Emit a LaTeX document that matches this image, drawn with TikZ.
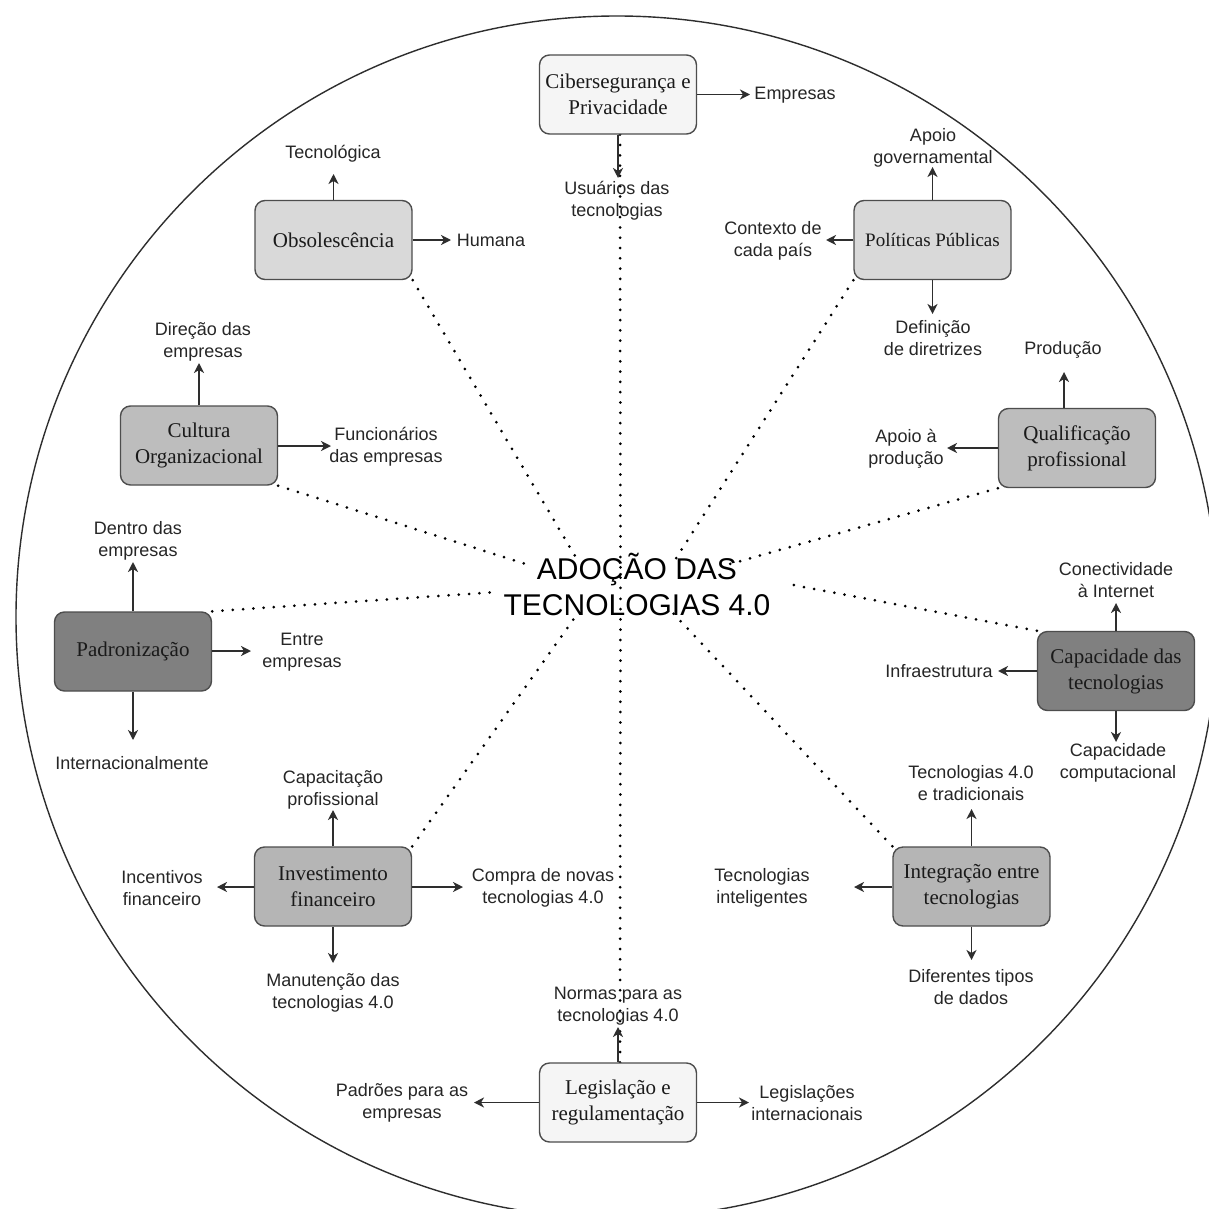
\documentclass[tikz,border=0pt]{standalone}
\usepackage{fontspec}
\setmainfont{Liberation Serif}
\newfontfamily\lsans{Liberation Sans}
\usetikzlibrary{arrows.meta,backgrounds}
\definecolor{fillA}{HTML}{F5F5F5}
\definecolor{fillB}{HTML}{D9D9D9}
\definecolor{fillC}{HTML}{BDBDBD}
\definecolor{fillD}{HTML}{B5B5B5}
\definecolor{fillE}{HTML}{808080}
\definecolor{edgec}{HTML}{4D4D4D}
\definecolor{linec}{HTML}{2E2E2E}
\definecolor{lbltext}{HTML}{262626}
\definecolor{boxtext}{HTML}{1A1A1A}
\begin{document}
\begin{tikzpicture}[x=1pt,y=-1pt,
  box/.style={draw=edgec, line width=1.4pt, rounded corners=10pt, minimum width=157pt, minimum height=79pt, inner sep=0pt, align=center, font=\fontsize{21}{26}\selectfont, text=boxtext},
  lbl/.style={align=center, font=\lsans\fontsize{18}{22}\selectfont, text=lbltext, inner sep=0pt},
  arr/.style={draw=linec, line width=1.7pt, -{Stealth[length=10pt,width=10pt,inset=3pt]}},
  dots/.style={line width=3pt, dash pattern=on 0pt off 10.3pt, line cap=round, black},
]
\useasboundingbox (0,0) rectangle (1209,1209);

% central text
\node[align=center, font=\lsans\fontsize{30}{36}\selectfont, inner sep=0pt, text=black] (core) at (637,584) {ADOÇÃO DAS\\TECNOLOGIAS 4.0};

% boxes
\node[box, fill=fillA] (cib) at (618,94.5) {Cibersegurança e\\Privacidade};
\node[box, fill=fillB] (obs) at (333.5,240) {Obsolescência};
\node[box, fill=fillB, font=\fontsize{19}{24}\selectfont] (pol) at (932.5,240) {Políticas Públicas};
\node[box, fill=fillC] (cul) at (199,445.5) {Cultura\\Organizacional};
\node[box, fill=fillC] (qua) at (1077,448) {Qualificação\\profissional};
\node[box, fill=fillE] (pad) at (133,651.5) {Padronização};
\node[box, fill=fillE] (cap) at (1116,671) {Capacidade das\\tecnologias};
\node[box, fill=fillD] (inv) at (333,886.5) {Investimento\\financeiro};
\node[box, fill=fillD] (int) at (971.5,886.5) {Integração entre\\tecnologias};
\node[box, fill=fillA] (leg) at (618,1102.5) {Legislação e\\regulamentação};

% dotted line ends near the centre
\coordinate (eO) at (575,556);
\coordinate (eC) at (532,566);
\coordinate (eP) at (497,592);
\coordinate (eI) at (578,613);
\coordinate (eT) at (675,560);
\coordinate (eQ) at (730,564);
\coordinate (eK) at (788,584);
\coordinate (eG) at (672,612);
\coordinate (eV) at (620.5,590);

\begin{scope}[on background layer]
\fill[white] (0,0) rectangle (1209,1209);
\begin{scope}
\clip (0,0) rectangle (1209,1209);
\node[circle, draw=linec, line width=1.4pt, minimum size=1202pt, inner sep=0pt] (ring) at (617,617) {};
\end{scope}
\draw[dots] (obs.south east) -- (eO);
\draw[dots] (cul.south east) -- (eC);
\draw[dots] (pad.north east) -- (eP);
\draw[dots] (inv.north east) -- (eI);
\draw[dots] (pol.south west) -- (eT);
\draw[dots] (qua.south west) -- (eQ);
\draw[dots] (cap.north west) -- (eK);
\draw[dots] (int.north west) -- (eG);
\draw[dots] ([xshift=2pt]cib.south) -- (eV);
\draw[dots] ([xshift=2pt]leg.north) -- (eV);
\end{scope}

% labels
\node[lbl] (l1) at (795,95) {Empresas};
\node[lbl] (l2) at (617,201) {Usuários das\\tecnologias};
\node[lbl] (l3) at (333,154) {Tecnológica};
\node[lbl] (l4) at (491,240) {Humana};
\node[lbl] (l5) at (933,148) {Apoio\\governamental};
\node[lbl] (l6) at (773,241) {Contexto de\\cada país};
\node[lbl] (l7) at (933,338) {Definição\\de diretrizes};
\node[lbl] (l8) at (203,342) {Direção das\\empresas};
\node[lbl] (l9) at (386,447) {Funcionários\\das empresas};
\node[lbl] (l10) at (1063,350) {Produção};
\node[lbl] (l11) at (906,449) {Apoio à\\produção};
\node[lbl] (l12) at (138,541) {Dentro das\\empresas};
\node[lbl] (l13) at (302,652) {Entre\\empresas};
\node[lbl] (l14) at (132,763) {Internacionalmente};
\node[lbl] (l15) at (1116,580) {Conectividade\\à Internet};
\node[lbl] (l16) at (939,671) {Infraestrutura};
\node[lbl] (l17) at (1118,763) {Capacidade\\computacional};
\node[lbl] (l18) at (333,790) {Capacitação\\profissional};
\node[lbl] (l19) at (162,888) {Incentivos\\financeiro};
\node[lbl] (l20) at (543,888) {Compra de novas\\tecnologias 4.0};
\node[lbl] (l21) at (333,993) {Manutenção das\\tecnologias 4.0};
\node[lbl] (l22) at (971,783) {Tecnologias 4.0\\e tradicionais};
\node[lbl] (l23) at (762,888) {Tecnologias\\inteligentes};
\node[lbl] (l24) at (971,987) {Diferentes tipos\\de dados};
\node[lbl] (l25) at (618,1006) {Normas para as\\tecnologias 4.0};
\node[lbl] (l26) at (402,1103) {Padrões para as\\empresas};
\node[lbl] (l27) at (807,1103) {Legislações\\internacionais};

% arrow tips
\coordinate (t1) at (750,94.5);
\coordinate (t2) at (618,178);
\coordinate (t3) at (333.5,174);
\coordinate (t4) at (451,240);
\coordinate (t5) at (932.5,167);
\coordinate (t6) at (826,240);
\coordinate (t7) at (932.5,314);
\coordinate (t8) at (199,363);
\coordinate (t9) at (331,446);
\coordinate (t10) at (1064,372);
\coordinate (t11) at (947,448);
\coordinate (t12) at (133,562);
\coordinate (t13) at (251,651);
\coordinate (t14) at (133,740);
\coordinate (t15) at (1116,603);
\coordinate (t16) at (998,671);
\coordinate (t17) at (1116,742);
\coordinate (t18) at (333,810);
\coordinate (t19) at (217,887);
\coordinate (t20) at (463,887);
\coordinate (t21) at (333,963);
\coordinate (t22) at (971.5,809);
\coordinate (t23) at (854,887);
\coordinate (t24) at (971.5,960);
\coordinate (t25) at (618,1027);
\coordinate (t26) at (474,1102.5);
\coordinate (t27) at (749,1102.5);

% arrows
\draw[arr] (cib.east |- t1) -- (t1);
\draw[arr] (cib.south -| t2) -- (t2);
\draw[arr] (obs.north -| t3) -- (t3);
\draw[arr] (obs.east |- t4) -- (t4);
\draw[arr] (pol.north -| t5) -- (t5);
\draw[arr] (pol.west |- t6) -- (t6);
\draw[arr] (pol.south -| t7) -- (t7);
\draw[arr] (cul.north -| t8) -- (t8);
\draw[arr] (cul.east |- t9) -- (t9);
\draw[arr] (qua.north -| t10) -- (t10);
\draw[arr] (qua.west |- t11) -- (t11);
\draw[arr] (pad.north -| t12) -- (t12);
\draw[arr] (pad.east |- t13) -- (t13);
\draw[arr] (pad.south -| t14) -- (t14);
\draw[arr] (cap.north -| t15) -- (t15);
\draw[arr] (cap.west |- t16) -- (t16);
\draw[arr] (cap.south -| t17) -- (t17);
\draw[arr] (inv.north -| t18) -- (t18);
\draw[arr] (inv.west |- t19) -- (t19);
\draw[arr] (inv.east |- t20) -- (t20);
\draw[arr] (inv.south -| t21) -- (t21);
\draw[arr] (int.north -| t22) -- (t22);
\draw[arr] (int.west |- t23) -- (t23);
\draw[arr] (int.south -| t24) -- (t24);
\draw[arr] (leg.north -| t25) -- (t25);
\draw[arr] (leg.west |- t26) -- (t26);
\draw[arr] (leg.east |- t27) -- (t27);
\end{tikzpicture}
\end{document}
